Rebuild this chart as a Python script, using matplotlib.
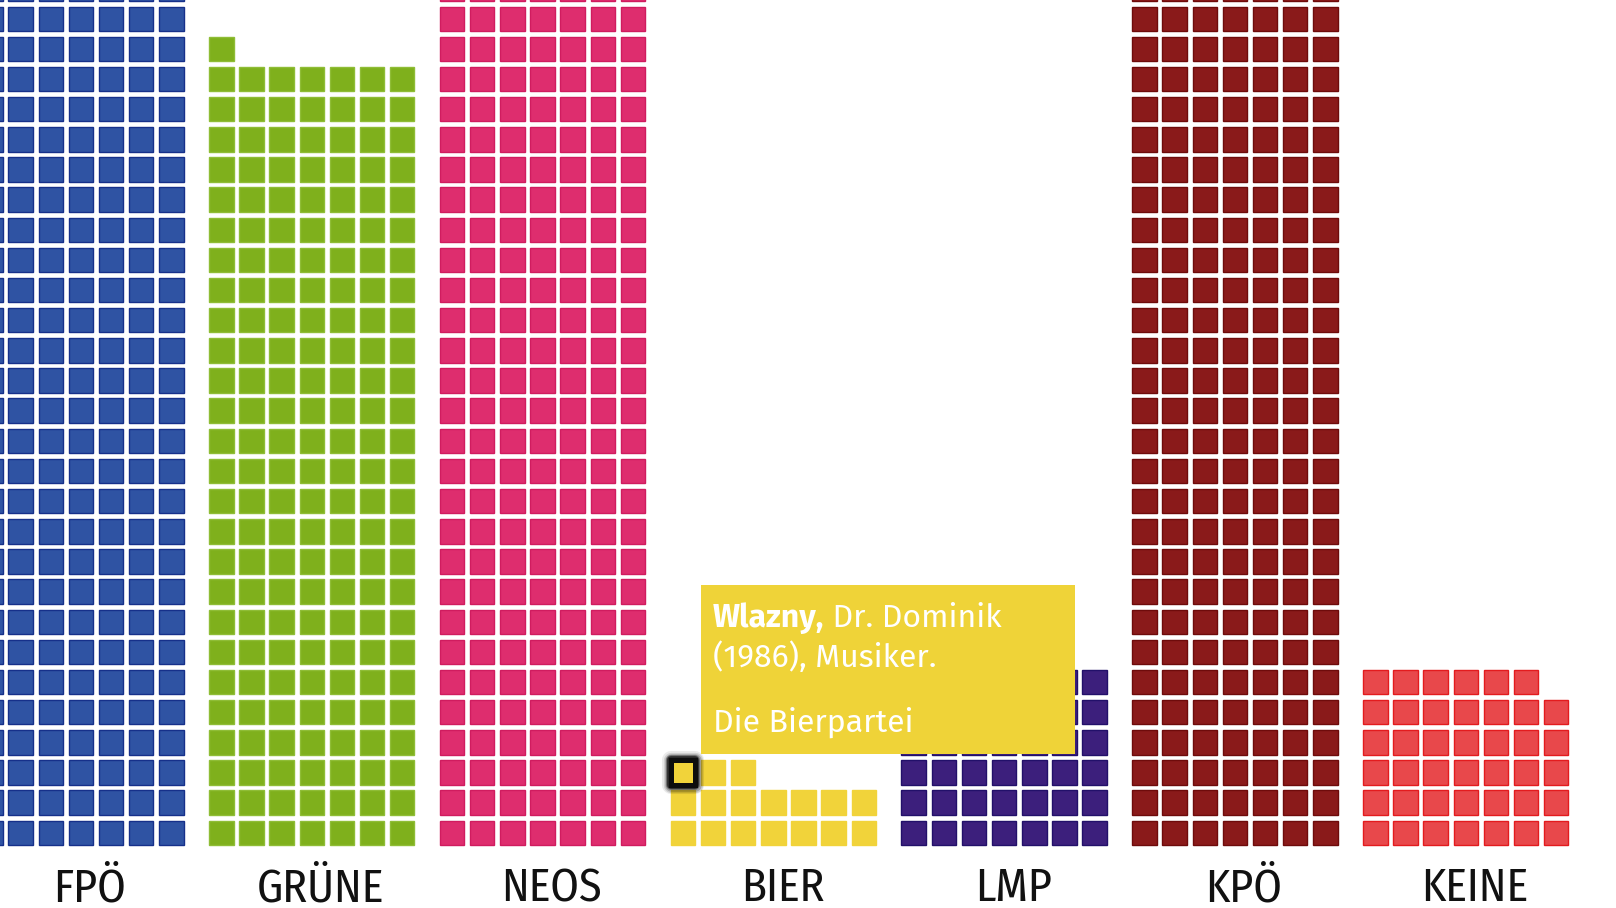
import matplotlib
matplotlib.use("Agg")
import matplotlib.pyplot as plt
from matplotlib.patches import Rectangle

# tiles per party (FPÖ, NEOS, KPÖ run past the top of the crop)
parties = ["FPÖ", "GRÜNE", "NEOS", "BIER", "LMP", "KPÖ", "KEINE"]
counts = [224, 183, 210, 17, 42, 217, 41]
faces = ["#2f53a3", "#7fb01c", "#de2d6e", "#f1d33a", "#3c1f7c", "#8a1a1a", "#e8484b"]
edges = ["#16308a", "#8fbd36", "#d01c5f", "#f1d33a", "#22106a", "#6e0b0b", "#e31b1e"]

highlight_party = "BIER"
highlight_idx = 14
tip_name = "Wlazny,"
tip_rest = " Dr. Dominik"
tip_line2 = "(1986), Musiker."
tip_line3 = "Die Bierpartei"

label_font = ["Fira Sans Condensed", "IBM Plex Sans Condensed", "DejaVu Sans"]
tip_font = ["Fira Sans", "Lato", "DejaVu Sans"]

ncol = 7
pitch_px = 30.15
group_step = 7.655
size = 0.81

fig = plt.figure(figsize=(16.16, 9.08), dpi=100)
ax = fig.add_axes([0, 0, 1, 1])
ax.set_xlim(0.72, 0.72 + 1616 / pitch_px)
ax.set_ylim(-63 / pitch_px, 845 / pitch_px)
ax.axis("off")

for i, (name, n) in enumerate(zip(parties, counts)):
    gx = i * group_step
    for k in range(n):
        r, c = divmod(k, ncol)
        ax.add_patch(Rectangle((gx + c, r), size, size, facecolor=faces[i],
                               edgecolor=edges[i], linewidth=1.0, zorder=2))
    ax.text(gx + 3.3 + size / 2, -1.86, name, ha="center", va="baseline",
            fontsize=33, color="#111111", family=label_font)

# highlighted tile with dark blurred border
hi = parties.index(highlight_party)
r, c = divmod(highlight_idx, ncol)
hx, hy = hi * group_step + c, r
for lw, a in [(13, 0.08), (11, 0.12), (9, 0.2), (7, 0.35), (5.5, 0.6)]:
    ax.add_patch(Rectangle((hx, hy), size, size, facecolor="none", edgecolor="black",
                           linewidth=lw, alpha=a, zorder=5, joinstyle="round"))
ax.add_patch(Rectangle((hx, hy), size, size, facecolor=faces[hi], edgecolor="#0d0d0d",
                       linewidth=3.6, zorder=6))

# tooltip
bx, by = hx + 1.0, hy + 1.02
bw, bh = 12.4, 5.6
ax.add_patch(Rectangle((bx, by), bw, bh, facecolor="#efd338", edgecolor="none", zorder=7))
tfont = dict(family=tip_font, fontsize=23, color="white", zorder=8, va="baseline")
t1 = ax.text(bx + 0.4, by + 4.21, tip_name, fontweight="bold", **tfont)
fig.canvas.draw()
ext = t1.get_window_extent()
x_end = ax.transData.inverted().transform((ext.x1, ext.y0))[0]
ax.text(x_end, by + 4.21, tip_rest, **tfont)
ax.text(bx + 0.4, by + 2.88, tip_line2, **tfont)
ax.text(bx + 0.4, by + 0.73, tip_line3, **tfont)

fig.savefig("out.png", dpi=100)
plt.close(fig)
